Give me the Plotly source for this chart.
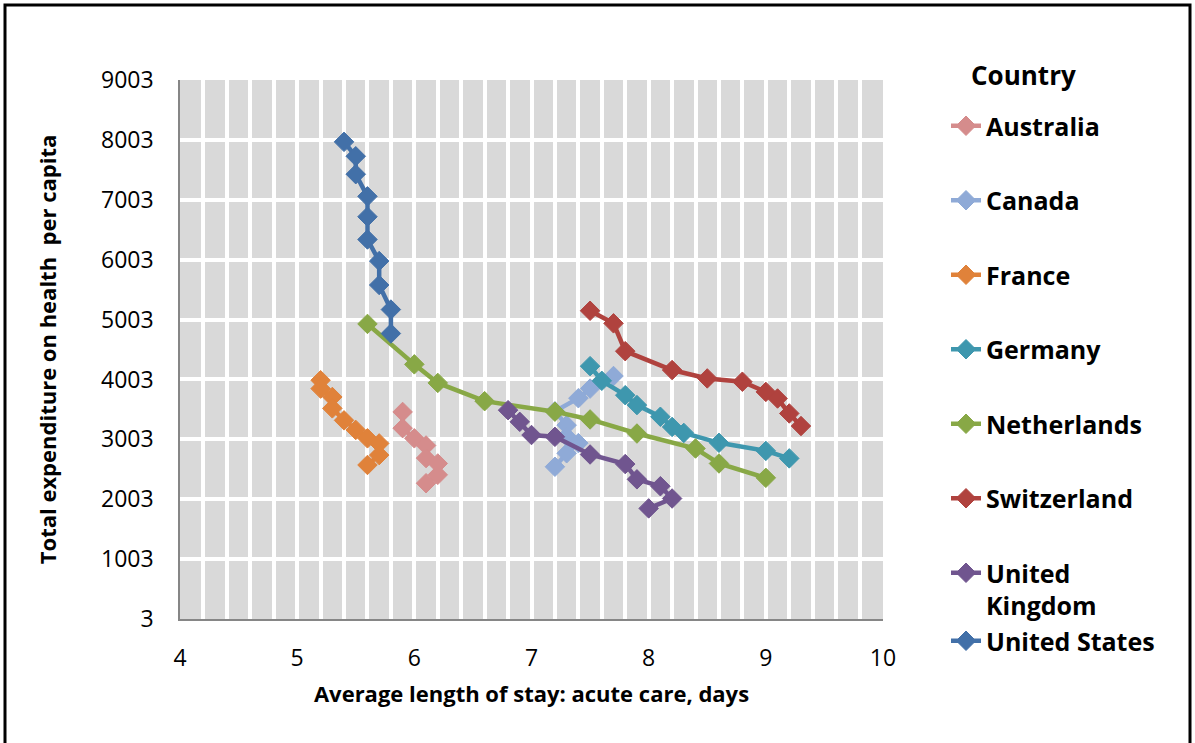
import plotly.graph_objects as go

# Average length of stay (acute care, days) vs. total health expenditure per capita
countries = ["Australia", "Canada", "France", "Germany", "Netherlands",
             "Switzerland", "United Kingdom", "United States"]
legend_names = ["Australia", "Canada", "France", "Germany", "Netherlands",
                "Switzerland", "United<br>Kingdom", "United States"]
colors = ["#D58C8C", "#8FAAD7", "#E0823A", "#3E97AE", "#88A846",
          "#B0423E", "#70558F", "#4270A8"]

australia_x = [5.9, 5.9, 6.0, 6.1, 6.1, 6.2, 6.2, 6.1]
australia_y = [3460, 3190, 3020, 2900, 2690, 2600, 2410, 2270]

canada_x = [7.7, 7.5, 7.4, 7.2, 7.3, 7.3, 7.4, 7.3, 7.2]
canada_y = [4060, 3850, 3690, 3470, 3240, 3050, 2940, 2770, 2545]

france_x = [5.2, 5.2, 5.3, 5.3, 5.4, 5.5, 5.6, 5.7, 5.7, 5.6]
france_y = [3990, 3850, 3710, 3520, 3320, 3160, 3020, 2935, 2740, 2575]

germany_x = [7.5, 7.6, 7.8, 7.9, 8.1, 8.2, 8.3, 8.6, 9.0, 9.2]
germany_y = [4225, 3980, 3740, 3575, 3380, 3210, 3110, 2945, 2810, 2685]

netherlands_x = [5.6, 6.0, 6.2, 6.6, 7.2, 7.5, 7.9, 8.4, 8.6, 9.0]
netherlands_y = [4930, 4255, 3945, 3640, 3465, 3335, 3100, 2850, 2600, 2360]

switzerland_x = [7.5, 7.7, 7.8, 8.2, 8.5, 8.8, 9.0, 9.1, 9.2, 9.3]
switzerland_y = [5150, 4940, 4475, 4160, 4020, 3965, 3795, 3685, 3435, 3225]

uk_x = [6.8, 6.9, 7.0, 7.2, 7.5, 7.8, 7.9, 8.1, 8.2, 8.0]
uk_y = [3490, 3295, 3075, 3045, 2750, 2590, 2335, 2220, 2015, 1850]

us_x = [5.4, 5.5, 5.5, 5.6, 5.6, 5.6, 5.7, 5.7, 5.8, 5.8]
us_y = [7970, 7730, 7430, 7060, 6720, 6340, 5980, 5580, 5170, 4770]

series_x = [australia_x, canada_x, france_x, germany_x, netherlands_x,
            switzerland_x, uk_x, us_x]
series_y = [australia_y, canada_y, france_y, germany_y, netherlands_y,
            switzerland_y, uk_y, us_y]

x_ticks = [4, 5, 6, 7, 8, 9, 10]
y_ticks = [3, 1003, 2003, 3003, 4003, 5003, 6003, 7003, 8003, 9003]

FONT = "Open Sans"

fig = go.Figure()
for i, (name, label, col, xs, ys) in enumerate(
        zip(countries, legend_names, colors, series_x, series_y)):
    # UK and US share a group so their entries sit tight together
    group = "uk_us" if name in ("United Kingdom", "United States") else name
    fig.add_trace(go.Scatter(
        x=xs, y=ys, name=label, mode="lines+markers",
        line=dict(color=col, width=4.5),
        marker=dict(symbol="diamond", size=15, color=col,
                    line=dict(color=col, width=1)),
        legendgroup=group,
    ))

W, H = 1195, 743
L, R, T, B = 180, 312, 80, 124
pw, ph = W - L - R, H - T - B


def px_x(p):
    return (p - L) / pw


def px_y(p):
    return (H - B - p) / ph


fig.update_layout(
    width=W, height=H,
    margin=dict(l=L, r=R, t=T, b=B, autoexpand=False),
    paper_bgcolor="white",
    plot_bgcolor="#D9D9D9",
    font=dict(family=FONT, color="black"),
    legend=dict(
        x=px_x(946), y=px_y(103), xanchor="left", yanchor="top",
        font=dict(family=FONT, size=25, color="black", weight="bold"),
        tracegroupgap=39, valign="top", maxheight=700,
        bgcolor="rgba(0,0,0,0)",
    ),
    annotations=[dict(
        text="<b>Country</b>", xref="paper", yref="paper",
        x=px_x(1024), y=px_y(75), xanchor="center", yanchor="middle",
        showarrow=False, font=dict(family=FONT, size=26, color="black"),
    )],
    shapes=[dict(
        type="rect", xref="paper", yref="paper",
        x0=px_x(5), x1=px_x(1190), y0=px_y(760), y1=px_y(5),
        line=dict(color="black", width=3), fillcolor="rgba(0,0,0,0)",
        layer="below",
    )],
)

fig.update_xaxes(
    range=[4, 10], tickvals=x_ticks, ticktext=[str(v) for v in x_ticks],
    showgrid=True, gridcolor="white", gridwidth=3.5,
    minor=dict(dtick=0.2, showgrid=True, gridcolor="white", gridwidth=3.5),
    showline=True, linecolor="#868686", linewidth=1.5,
    zeroline=False, ticks="", ticklabelstandoff=18,
    tickfont=dict(family=FONT, size=23, color="black"),
    title=dict(text="<b>Average length of stay: acute care, days</b>",
               font=dict(family=FONT, size=22, color="black"), standoff=14),
    automargin=False,
)
fig.update_yaxes(
    range=[3, 9003], tickvals=y_ticks, ticktext=[str(v) for v in y_ticks],
    showgrid=True, gridcolor="white", gridwidth=4,
    showline=True, linecolor="#868686", linewidth=1.5,
    zeroline=False, ticks="", ticklabelstandoff=20,
    tickfont=dict(family=FONT, size=23, color="black"),
    title=dict(text="<b>Total expenditure on health  per capita</b>",
               font=dict(family=FONT, size=22, color="black"), standoff=38),
    automargin=False,
)

fig.write_html("out.html")
